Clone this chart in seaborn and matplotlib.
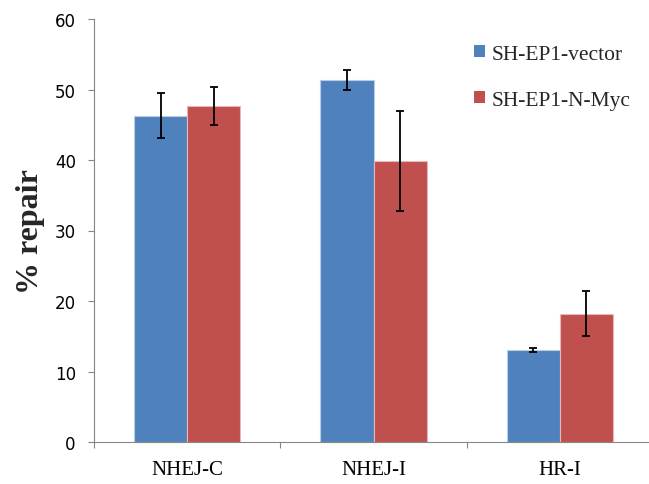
import matplotlib
matplotlib.use("Agg")
import matplotlib.pyplot as plt
import matplotlib.patches as mpatches
import numpy as np
import pandas as pd
import seaborn as sns

# Repair assay results
categories = ["NHEJ-C", "NHEJ-I", "HR-I"]
series = ["SH-EP1-vector", "SH-EP1-N-Myc"]
vector_vals = [46.3, 51.3, 13.0]
vector_err = [3.2, 1.4, 0.3]
nmyc_vals = [47.6, 39.9, 18.2]
nmyc_err = [2.7, 7.1, 3.2]
yticks = [0, 10, 20, 30, 40, 50, 60]

colors = ["#4F81BD", "#C0504D"]
edge_colors = ["#B9CDE5", "#E6B9B8"]
axis_gray = "#868686"

df = pd.DataFrame({
    "category": categories * 2,
    "series": [series[0]] * 3 + [series[1]] * 3,
    "value": vector_vals + nmyc_vals,
    "err": vector_err + nmyc_err,
})

sns.set_theme(style="white")
plt.rcParams["font.family"] = ["Liberation Serif", "DejaVu Serif"]

fig = plt.figure(figsize=(6.49, 4.85), dpi=100)
ax = fig.add_axes([94.3 / 649, 42 / 485, 1 - 94.3 / 649, 423 / 485])

sns.barplot(data=df, x="category", y="value", hue="series", order=categories,
            hue_order=series, palette=colors, width=0.57, errorbar=None,
            saturation=1, legend=False, ax=ax)

# Error bars at each bar centre, bar order follows hue then category
for i, s in enumerate(series):
    sub = df[df["series"] == s].set_index("category").loc[categories]
    bars = ax.patches[i * len(categories):(i + 1) * len(categories)]
    xs = [b.get_x() + b.get_width() / 2 for b in bars]
    for b in bars:
        b.set_edgecolor(edge_colors[i])
        b.set_linewidth(0.8)
    ax.errorbar(xs, sub["value"].values, yerr=sub["err"].values, fmt="none",
                ecolor="black", elinewidth=1.3, capsize=2.6, capthick=1.3,
                zorder=5)

ax.set_ylim(0, 60)
ax.set_xlim(-0.5, 2.48)
ax.set_yticks(yticks)
ax.set_yticklabels([str(t) for t in yticks], family="DejaVu Sans", fontsize=12)

ax.set_xticks(range(len(categories)))
ax.set_xticklabels(categories, fontsize=15)
ax.set_xticks([-0.5, 0.5, 1.5], minor=True)
ax.tick_params(axis="x", which="major", length=0, pad=13, colors="black")
ax.tick_params(axis="x", which="minor", length=4.3, width=0.8, color=axis_gray,
               direction="out", bottom=True)
ax.tick_params(axis="y", which="major", length=4.3, width=0.8, color=axis_gray,
               direction="out", left=True, pad=9, labelcolor="black")

ax.set_xlabel("")
ax.set_ylabel("% repair", fontsize=23, fontweight="bold", labelpad=7)

for side in ["top", "right"]:
    ax.spines[side].set_visible(False)
for side in ["left", "bottom"]:
    ax.spines[side].set_color(axis_gray)
    ax.spines[side].set_linewidth(0.8)

handles = [mpatches.Patch(facecolor=c, edgecolor="none") for c in colors]
fig.legend(handles, series, loc="upper left", bbox_to_anchor=(474 / 649, 1 - 46 / 485),
           frameon=False, fontsize=15.5, handlelength=0.5, handleheight=0.5,
           handletextpad=0.3, labelspacing=1.25, borderpad=0, borderaxespad=0)

fig.savefig("out.png", dpi=100)
